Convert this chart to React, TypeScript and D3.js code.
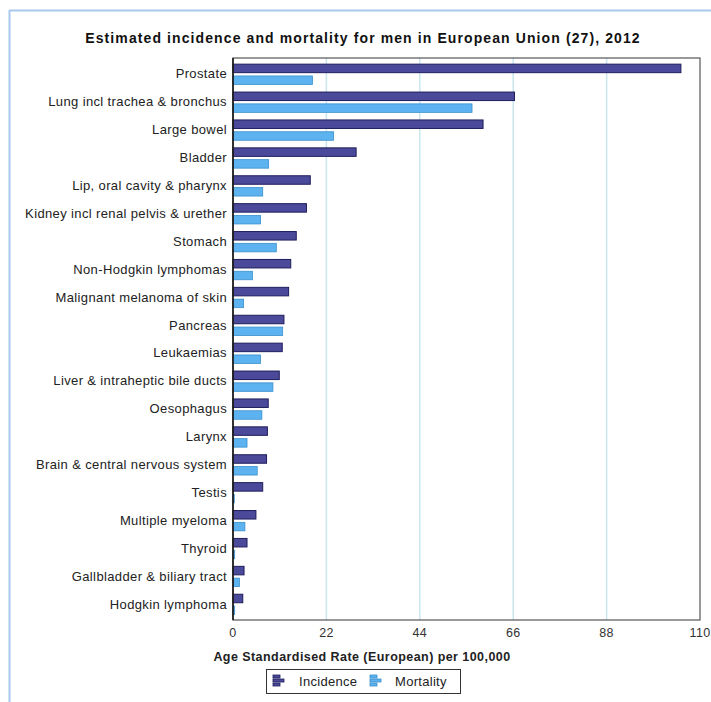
import React from "react";
import * as d3 from "d3";

const categories = [
  "Prostate",
  "Lung incl trachea & bronchus",
  "Large bowel",
  "Bladder",
  "Lip, oral cavity & pharynx",
  "Kidney incl renal pelvis & urether",
  "Stomach",
  "Non-Hodgkin lymphomas",
  "Malignant melanoma of skin",
  "Pancreas",
  "Leukaemias",
  "Liver & intraheptic bile ducts",
  "Oesophagus",
  "Larynx",
  "Brain & central nervous system",
  "Testis",
  "Multiple myeloma",
  "Thyroid",
  "Gallbladder & biliary tract",
  "Hodgkin lymphoma",
];

const incidence = [105.5, 66.3, 58.9, 29.0, 18.2, 17.3, 14.9, 13.6, 13.1, 12.0, 11.6, 10.9, 8.3, 8.1, 7.9, 7.0, 5.4, 3.3, 2.6, 2.3];
const mortality = [18.7, 56.3, 23.7, 8.4, 7.0, 6.5, 10.2, 4.6, 2.5, 11.7, 6.5, 9.4, 6.8, 3.3, 5.7, 0.3, 2.8, 0.4, 1.5, 0.4];

const xTicks = [0, 22, 44, 66, 88, 110];
const seriesNames = ["Incidence", "Mortality"];

const W = 711;
const H = 702;
const plot = { left: 233, right: 700, top: 58, bottom: 620 };

const incFill = "#4b4a9a";
const incStroke = "#1f1d5c";
const morFill = "#5cb3f0";
const morStroke = "#3a8fcc";
const FONT = "Arial, 'Liberation Sans', sans-serif";

export default function App() {
  const x = d3.scaleLinear().domain([0, 110]).range([plot.left, plot.right]);
  const y = d3
    .scaleBand<string>()
    .domain(categories)
    .range([plot.top, plot.bottom])
    .paddingInner(0)
    .paddingOuter(0.072);
  const step = y.bandwidth();

  const barH = 8.5;

  const LegendIcon = ({ xx, yy, fill, stroke }: { xx: number; yy: number; fill: string; stroke: string }) => (
    <g>
      <rect x={xx} y={yy} width={7} height={3} fill={fill} stroke={stroke} strokeWidth={0.8} />
      <rect x={xx} y={yy + 4} width={11} height={3} fill={fill} stroke={stroke} strokeWidth={0.8} />
      <rect x={xx} y={yy + 8} width={7} height={3} fill={fill} stroke={stroke} strokeWidth={0.8} />
    </g>
  );

  return (
    <div style={{ position: "absolute", left: 0, top: 0, width: W, height: H, background: "#fff" }}>
      <svg width={W} height={H} style={{ display: "block", fontFamily: FONT }}>
        <rect x={0} y={0} width={W} height={H} fill="#fff" />
        {/* outer frame */}
        <line x1={9.5} y1={10} x2={9.5} y2={H} stroke="#a7c9ef" strokeWidth={2} />
        <line x1={9} y1={10.5} x2={W} y2={10.5} stroke="#a7c9ef" strokeWidth={2} />

        <text x={363} y={43} textAnchor="middle" fontSize={14} fontWeight="bold" fill="#111" letterSpacing={1.1}>
          Estimated incidence and mortality for men in European Union (27), 2012
        </text>

        {/* grid */}
        {xTicks.slice(1, -1).map((t) => (
          <line key={t} x1={x(t)} x2={x(t)} y1={plot.top} y2={plot.bottom} stroke="#c9e6ee" strokeWidth={1.5} />
        ))}

        {/* bars */}
        {categories.map((c, i) => {
          const cy = (y(c) as number) + step / 2;
          return (
            <g key={c}>
              <rect
                x={x(0)}
                y={cy - 9.8}
                width={Math.max(0, x(incidence[i]) - x(0))}
                height={barH}
                fill={incFill}
                stroke={incStroke}
                strokeWidth={1}
              />
              <rect
                x={x(0)}
                y={cy + 2}
                width={Math.max(0, x(mortality[i]) - x(0))}
                height={barH}
                fill={morFill}
                stroke={morStroke}
                strokeWidth={0.8}
              />
              <text x={227} y={cy + 4.5} textAnchor="end" fontSize={13} fill="#222" letterSpacing={0.37}>
                {c}
              </text>
            </g>
          );
        })}

        {/* plot frame */}
        <rect
          x={plot.left}
          y={plot.top}
          width={plot.right - plot.left}
          height={plot.bottom - plot.top}
          fill="none"
          stroke="#555"
          strokeWidth={1.2}
        />
        <line x1={plot.left} x2={plot.left} y1={plot.top} y2={plot.bottom} stroke="#111" strokeWidth={1.5} />

        {/* x ticks */}
        {xTicks.map((t) => (
          <text key={t} x={x(t)} y={637} textAnchor="middle" fontSize={12.5} fill="#333" letterSpacing={0.3}>
            {t}
          </text>
        ))}

        <text x={362} y={661} textAnchor="middle" fontSize={12.5} fontWeight="bold" fill="#222" letterSpacing={0.44}>
          Age Standardised Rate (European) per 100,000
        </text>

        {/* legend */}
        <rect x={266.5} y={669.5} width={194} height={24} fill="#fff" stroke="#333" strokeWidth={1} />
        <LegendIcon xx={273} yy={675} fill={incFill} stroke={incStroke} />
        <text x={299} y={686} fontSize={13} fill="#222" letterSpacing={0.3}>
          {seriesNames[0]}
        </text>
        <LegendIcon xx={370} yy={675} fill={morFill} stroke={morStroke} />
        <text x={395} y={686} fontSize={13} fill="#222" letterSpacing={0.3}>
          {seriesNames[1]}
        </text>
      </svg>
    </div>
  );
}
